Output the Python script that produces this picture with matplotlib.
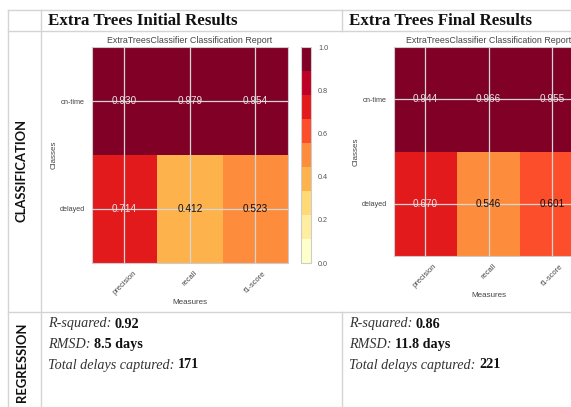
import numpy as np
import matplotlib
matplotlib.use("Agg")
import matplotlib.pyplot as plt
from matplotlib.colors import ListedColormap
from matplotlib.lines import Line2D

W, H = 571, 407

classes = ["on-time", "delayed"]
measures = ["precision", "recall", "f1-score"]
initial_scores = [[0.930, 0.979, 0.954],
                  [0.714, 0.412, 0.523]]
final_scores = [[0.944, 0.966, 0.955],
                [0.670, 0.546, 0.601]]

reg_labels = ["R-squared:", "RMSD:", "Total delays captured:"]
initial_reg = ["0.92", "8.5 days", "171"]
final_reg = ["0.86", "11.8 days", "221"]

headers = ["Extra Trees Initial Results", "Extra Trees Final Results"]
row_names = ["CLASSIFICATION", "REGRESSION"]

# 9-class YlOrRd, the same palette yellowbrick uses for its reports
cmap = ListedColormap(["#ffffcc", "#ffeda0", "#fed976", "#feb24c", "#fd8d3c",
                       "#fc4e2a", "#e31a1c", "#bd0026", "#800026"])

SANS = "Liberation Sans"
SERIF = "Liberation Serif"
GRID = "#d4d4d4"
LABEL = "#444444"

fig = plt.figure(figsize=(W / 100, H / 100), dpi=100)
fig.patch.set_facecolor("white")


def frac(left, top, right, bottom):
    # pixel box (from the top-left corner) -> figure fraction rect
    return [left / W, 1 - bottom / H, (right - left) / W, (bottom - top) / H]


def hline(y, x0=8, x1=W):
    fig.add_artist(Line2D([x0 / W, x1 / W], [1 - y / H, 1 - y / H],
                          color=GRID, lw=1.0))


def vline(x, y0, y1):
    fig.add_artist(Line2D([x / W, x / W], [1 - y0 / H, 1 - y1 / H],
                          color=GRID, lw=1.0))


def report(box, scores, cbar_box=None):
    ax = fig.add_axes(frac(*box))
    data = np.array(scores)
    mesh = ax.pcolormesh(np.arange(len(measures) + 1), np.arange(len(classes) + 1),
                         data, cmap=cmap, vmin=0, vmax=1)
    ax.set_xlim(0, len(measures))
    ax.set_ylim(len(classes), 0)
    ax.set_xticks(np.arange(len(measures)) + 0.5)
    ax.set_yticks(np.arange(len(classes)) + 0.5)
    ax.set_xticklabels(measures, rotation=45, fontsize=5.4, family=SANS, color=LABEL)
    ax.set_yticklabels(classes, fontsize=5.2, family=SANS, color=LABEL)
    ax.tick_params(length=0, pad=5)
    ax.grid(True, color="#d6d6d6", lw=0.9)
    ax.set_axisbelow(False)
    for s in ax.spines.values():
        s.set_edgecolor("#cccccc")
        s.set_linewidth(0.8)
    for i in range(len(classes)):
        for j in range(len(measures)):
            v = data[i, j]
            ax.text(j + 0.5, i + 0.5, f"{v:0.3f}", ha="center", va="center",
                    fontsize=7.2, family=SANS,
                    color="#e6e6e6" if v > 0.65 else "#111111", zorder=4)
    ax.set_title("ExtraTreesClassifier Classification Report", fontsize=6.4,
                 family=SANS, color=LABEL, pad=3)
    ax.set_xlabel("Measures", fontsize=5.8, family=SANS, color=LABEL, labelpad=2)
    ax.set_ylabel("Classes", fontsize=5.8, family=SANS, color=LABEL, labelpad=1)
    if cbar_box is not None:
        cax = fig.add_axes(frac(*cbar_box))
        cb = fig.colorbar(mesh, cax=cax, ticks=[0, 0.2, 0.4, 0.6, 0.8, 1.0])
        cb.outline.set_edgecolor("#cccccc")
        cb.outline.set_linewidth(0.8)
        cax.tick_params(length=0, labelsize=5.2, colors="#555555", pad=5)
        for t in cax.get_yticklabels():
            t.set_family(SANS)
    return ax


# table frame
hline(10)
hline(31)
hline(312)
vline(8, 10, H)
vline(41, 10, H)
vline(342, 10, 31)
vline(342, 312, H)

# column headers
for x, txt in zip([48, 349], headers):
    fig.text(x / W, 1 - 21 / H, txt, fontsize=12.2, fontweight="bold",
             family=SERIF, color="#111111", va="center", ha="left")

# row labels
for y, txt in zip([171, 362], row_names):
    fig.text(22 / W, 1 - y / H, txt, rotation=90, fontsize=9.4, fontweight="bold",
             family="Lato", color="#111111", va="center", ha="center")

# classification heatmaps
report((91.7, 47, 288, 263), initial_scores, cbar_box=(301, 47, 311, 263))
report((393.5, 47, 584, 256), final_scores)

# regression metrics: italic label followed by the bold value
for x, values in zip([48, 349], [initial_reg, final_reg]):
    for k, (lab, val) in enumerate(zip(reg_labels, values)):
        y = 324 + 20.5 * k
        t = fig.text(x / W, 1 - y / H, lab, fontsize=10.2, style="italic",
                     family=SERIF, color="#333333", va="center", ha="left")
        plt.annotate(val, xy=(1, 0), xycoords=t, xytext=(2.6, 0),
                     textcoords="offset points", fontsize=10.2, fontweight="bold",
                     family=SERIF, color="#111111", va="bottom", ha="left",
                     annotation_clip=False)

fig.savefig("out.png", dpi=100, facecolor="white")
